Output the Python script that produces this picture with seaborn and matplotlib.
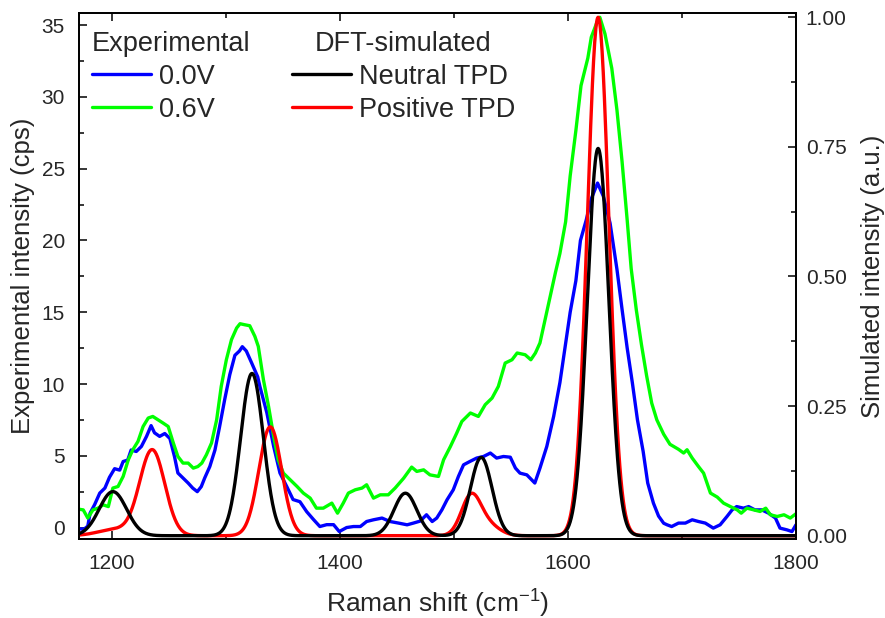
import numpy as np
import pandas as pd
import matplotlib
matplotlib.use("Agg")
import matplotlib.pyplot as plt
import seaborn as sns
from matplotlib.ticker import MultipleLocator, FormatStrFormatter
from matplotlib.lines import Line2D

# ---------------- data ----------------
blue_x = [1171, 1176, 1179, 1181, 1185, 1189.5, 1194, 1198, 1202.5, 1207, 1210, 1214, 1217, 1221.5,
          1226, 1230.5, 1234.5, 1237.5, 1242, 1246.5, 1251, 1255, 1258, 1262.5, 1267, 1271, 1275,
          1278.5, 1281.5, 1286, 1290.5, 1294.5, 1299, 1303.5, 1308, 1312, 1314.5, 1318, 1322.5, 1328,
          1330, 1336, 1342, 1347.5, 1353.5, 1359, 1365, 1371, 1377, 1382.5, 1388.5, 1394.5, 1399.5,
          1406, 1412, 1418, 1423.5, 1429.5, 1437, 1444, 1451.5, 1459, 1464.5, 1470.5, 1476, 1481,
          1485, 1489.5, 1494, 1499.5, 1504, 1508.5, 1514, 1520, 1526, 1532, 1537.5, 1543.5, 1549.5,
          1554, 1558, 1564, 1571, 1575.5, 1581.5, 1587.5, 1593, 1598, 1602, 1607, 1611, 1616, 1620.5,
          1626, 1631, 1637, 1643, 1647.5, 1652, 1656.5, 1661, 1666, 1670, 1675, 1679.5, 1684, 1687,
          1691, 1697, 1703, 1709, 1714.5, 1720.5, 1727.5, 1733.5, 1739.5, 1744, 1748, 1754, 1758.5,
          1764, 1770, 1776, 1782, 1786, 1792, 1796.5, 1800]
blue_y = [-0.1, -0.1, 0.1, 1.0, 1.6, 2.4, 2.75, 3.5, 4.1, 4.0, 4.6, 4.7, 5.4, 5.3,
          5.65, 6.35, 7.1, 6.6, 6.35, 6.55, 6.2, 4.95, 3.8, 3.45, 3.1, 2.75, 2.5,
          2.85, 3.45, 4.25, 5.4, 7.0, 8.9, 10.65, 12.0, 12.3, 12.6, 12.3, 11.5, 10.5,
          9.8, 8.0, 5.65, 3.8, 2.85, 1.95, 1.8, 1.1, 0.55, 0.07, 0.2, 0.2, -0.28,
          0.0, 0.07, 0.07, 0.42, 0.54, 0.66, 0.42, 0.31, 0.19, 0.31, 0.45, 0.89, 0.42,
          0.66, 1.23, 1.93, 2.63, 3.56, 4.37, 4.6, 4.84, 4.95, 5.19, 4.84, 4.95, 4.9,
          4.14, 3.79, 3.67, 3.1, 4.14, 5.65, 7.74, 10.1, 12.8, 15.0, 17.2, 20.0, 21.4, 22.9,
          24.0, 23.1, 21.2, 18.0, 15.2, 12.5, 10.1, 7.5, 5.3, 3.1, 1.7, 0.8, 0.3, 0.19,
          0.07, 0.31, 0.31, 0.54, 0.42, 0.31, -0.04, 0.19, 0.77, 1.23, 1.46, 1.35, 1.46,
          1.23, 1.23, 1.0, 0.66, -0.04, -0.16, -0.28, 0.19]

green_x = [1171, 1175, 1179, 1183.5, 1188, 1192.5, 1197, 1201, 1205.5, 1210, 1214.5, 1218.5, 1223,
           1227.5, 1232, 1236, 1240.5, 1245, 1249.5, 1254, 1258, 1262.5, 1267, 1271.5, 1275.5, 1279,
           1283, 1287.5, 1292, 1296, 1300.5, 1305, 1309.5, 1312.5, 1316.5, 1321, 1325.5, 1328.5, 1333,
           1337.5, 1342, 1346, 1350.5, 1356.5, 1362.5, 1368, 1374, 1379.5, 1385.5, 1393, 1398, 1403,
           1407.5, 1413.5, 1419.5, 1423.5, 1429.5, 1435.5, 1442.5, 1448.5, 1456, 1463, 1467.5, 1473.5,
           1479, 1486.5, 1491, 1497, 1502.5, 1507, 1514.5, 1521.5, 1527.5, 1533.5, 1539, 1545, 1551,
           1555.5, 1562.5, 1567.5, 1571.5, 1575.5, 1580, 1584.5, 1589, 1593, 1598, 1602, 1607, 1611.5,
           1614.5, 1617.5, 1620.5, 1625, 1628, 1632.5, 1638.5, 1643, 1647.5, 1652, 1655.5, 1660,
           1664.5, 1669, 1673.5, 1678, 1684, 1689.5, 1697, 1701.5, 1704.5, 1709, 1714.5, 1719, 1722,
           1725, 1731, 1736.5, 1742.5, 1748.5, 1752, 1757, 1763, 1768.5, 1773.5, 1777.5, 1783.5,
           1789.5, 1795, 1800]
green_y = [1.28, 1.23, 0.66, 1.23, 1.35, 1.58, 1.46, 2.75, 2.86, 3.56, 4.72, 5.42, 6.0,
           7.04, 7.63, 7.74, 7.51, 7.28, 7.04, 5.89, 4.95, 4.49, 4.49, 4.14, 4.25, 4.49,
           5.07, 5.89, 7.51, 9.83, 11.69, 13.09, 13.9, 14.2, 14.13, 14.06, 13.32, 12.62, 10.3,
           8.44, 6.35, 4.72, 3.79, 3.33, 2.86, 2.4, 2.05, 1.35, 1.35, 1.7, 1.0, 1.7,
           2.4, 2.63, 2.75, 2.98, 2.05, 2.28, 2.28, 2.75, 3.44, 4.21, 3.91, 4.02,
           3.67, 3.56, 4.72, 5.65, 6.58, 7.39, 7.98, 7.74, 8.56, 9.02, 9.83, 11.46, 11.69,
           12.16, 12.04, 11.69, 12.16, 12.86, 14.48, 16.11, 17.74, 19.1, 21.3, 24.5, 27.66, 30.79,
           31.75, 32.71, 34.16, 35.1, 35.55, 34.4, 31.99, 29.1, 25.5, 21.41, 18.04, 15.16,
           12.75, 10.59, 8.67, 7.5, 6.5, 5.8, 5.45, 5.19, 5.42, 4.84, 4.25, 3.79, 3.1,
           2.4, 2.12, 1.7, 1.46, 1.23, 1.0, 1.35, 1.23, 1.12, 1.35, 0.89, 0.77,
           0.89, 0.66, 0.96]

# DFT-simulated spectra: band positions (cm-1), normalised intensities and Gaussian widths
neutral_pos = [1201, 1323, 1457.5, 1524, 1626.5]
neutral_int = [0.085, 0.313, 0.082, 0.151, 0.747]
neutral_sig = [12, 10, 10, 9.5, 9.5]

positive_pos = [1203, 1235.5, 1339, 1515, 1530, 1626.5]
positive_int = [0.012, 0.165, 0.21, 0.075, 0.02, 1.0]
positive_sig = [15, 11, 10, 8.5, 10, 9.5]

x_ticks = [1200, 1400, 1600, 1800]
left_ticks = [0, 5, 10, 15, 20, 25, 30, 35]
right_ticks = [0.00, 0.25, 0.50, 0.75, 1.00]

assert len(blue_x) == len(blue_y), (len(blue_x), len(blue_y))
assert len(green_x) == len(green_y), (len(green_x), len(green_y))


def broaden(pos, inten, sig, grid):
    out = np.zeros_like(grid)
    for p, a, s in zip(pos, inten, sig):
        out += a * np.exp(-0.5 * ((grid - p) / s) ** 2)
    return out


grid = np.arange(1171, 1800.01, 0.5)
neutral_df = pd.DataFrame({"x": grid, "y": broaden(neutral_pos, neutral_int, neutral_sig, grid)})
positive_df = pd.DataFrame({"x": grid, "y": broaden(positive_pos, positive_int, positive_sig, grid)})
blue_df = pd.DataFrame({"x": blue_x, "y": blue_y})
green_df = pd.DataFrame({"x": green_x, "y": green_y})

# ---------------- style ----------------
sns.set_style("ticks")
plt.rcParams["font.family"] = ["Liberation Sans", "DejaVu Sans"]
plt.rcParams["mathtext.default"] = "regular"
plt.rcParams["axes.linewidth"] = 1.3

fig = plt.figure(figsize=(8.85, 6.18), dpi=100)
ax = fig.add_axes([0.0889, 0.1278, 0.8105, 0.8512])
ax2 = ax.twinx()

lw = 2.4
sns.lineplot(data=blue_df, x="x", y="y", ax=ax, color="#0000FF", lw=lw, sort=False, estimator=None)
sns.lineplot(data=green_df, x="x", y="y", ax=ax, color="#00FF00", lw=lw, sort=False, estimator=None)
sns.lineplot(data=positive_df, x="x", y="y", ax=ax2, color="#FF0000", lw=lw, sort=False, estimator=None)
sns.lineplot(data=neutral_df, x="x", y="y", ax=ax2, color="#000000", lw=lw, sort=False, estimator=None)

ax.set_xlim(1171, 1800)
ax.set_ylim(-0.8, 35.85)
ax2.set_ylim(-0.0064, 1.0083)

ax.set_xticks(x_ticks)
ax.xaxis.set_minor_locator(MultipleLocator(100))
ax.set_yticks(left_ticks)
ax.yaxis.set_minor_locator(MultipleLocator(2.5))
ax2.set_yticks(right_ticks)
ax2.yaxis.set_minor_locator(MultipleLocator(0.125))
ax2.yaxis.set_major_formatter(FormatStrFormatter("%.2f"))

ax.tick_params(axis="x", which="both", direction="in", top=True, bottom=True, labelsize=15, pad=11)
ax.tick_params(axis="y", which="both", direction="in", left=True, right=False, labelsize=15, pad=10)
ax.tick_params(which="major", length=6, width=1.3)
ax.tick_params(which="minor", length=3.5, width=1.3)
ax2.tick_params(axis="y", which="both", direction="in", right=True, left=False, labelsize=15, pad=7)
ax2.tick_params(which="major", length=6, width=1.3)
ax2.tick_params(which="minor", length=3.5, width=1.3)

ax.set_xlabel("Raman shift (cm$^{-1}$)", fontsize=19)
ax.set_ylabel("Experimental intensity (cps)", fontsize=18.5)
ax2.set_ylabel("Simulated intensity (a.u.)", fontsize=18.5)
ax.xaxis.set_label_coords(0.5, -0.092)
ax.yaxis.set_label_coords(-0.061, 0.5)
ax2.yaxis.set_label_coords(1.090, 0.5)

for a in (ax, ax2):
    for s in a.spines.values():
        s.set_visible(True)
        s.set_linewidth(1.3)
        s.set_color("black")

# ---------------- legends ----------------
h_blue = Line2D([], [], color="#0000FF", lw=lw)
h_green = Line2D([], [], color="#00FF00", lw=lw)
h_black = Line2D([], [], color="#000000", lw=lw)
h_red = Line2D([], [], color="#FF0000", lw=lw)

common = dict(loc="upper left", frameon=False, fontsize=19.5, title_fontsize=19.5,
              handlelength=2.2, handletextpad=0.3, labelspacing=0.25, borderpad=0,
              borderaxespad=0, bbox_transform=fig.transFigure)
leg1 = ax2.legend([h_blue, h_green], ["0.0V", "0.6V"], title="Experimental",
                  bbox_to_anchor=(91.5 / 885, 1 - 31 / 618), alignment="left", **common)
ax2.add_artist(leg1)
leg2 = ax2.legend([h_black, h_red], ["Neutral TPD", "Positive TPD"], title="DFT-simulated",
                  bbox_to_anchor=(291.5 / 885, 1 - 31 / 618), alignment="center", **common)

fig.savefig("out.png", dpi=100)
